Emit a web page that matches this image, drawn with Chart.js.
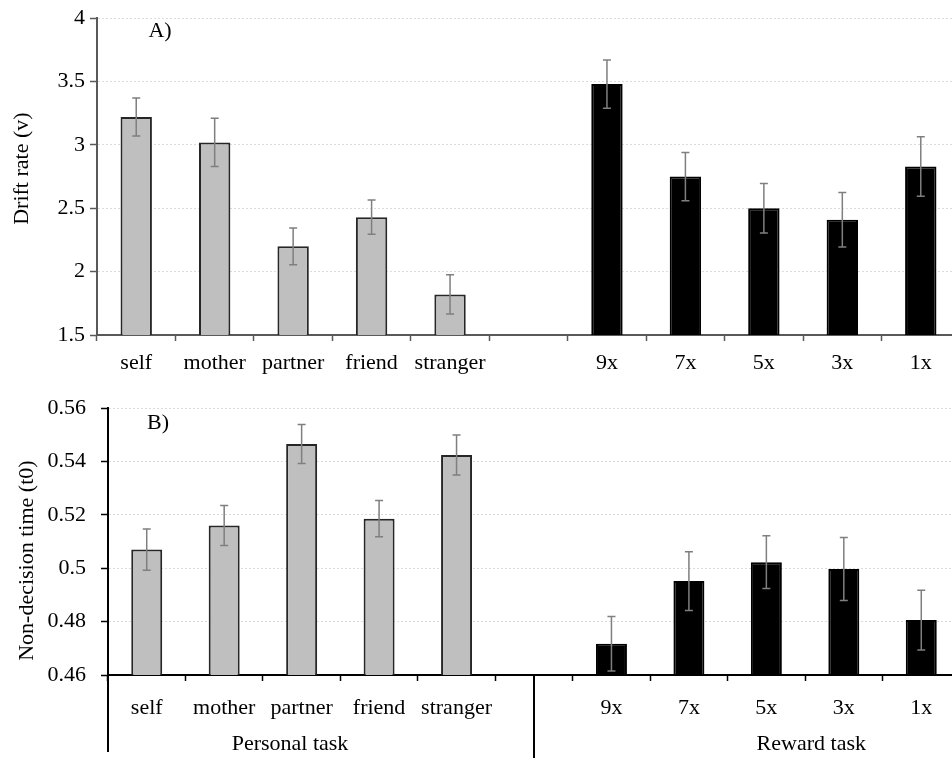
<!DOCTYPE html>
<html>
<head>
<meta charset="utf-8">
<script src="https://cdn.jsdelivr.net/npm/chart.js@4.4.1/dist/chart.umd.min.js"></script>
<style>
  html, body { margin: 0; padding: 0; background: #fff; overflow: hidden; }
  canvas { display: block; }
</style>
</head>
<body>
<canvas id="driftChart" width="960" height="380"></canvas>
<canvas id="t0Chart" width="960" height="380"></canvas>
<script>
// categories
const personalLabels = ['self', 'mother', 'partner', 'friend', 'stranger'];
const rewardLabels = ['9x', '7x', '5x', '3x', '1x'];

// panel A: drift rate (v)
const driftPersonal = [3.22, 3.02, 2.20, 2.43, 1.82];
const driftPersonalErr = [0.15, 0.19, 0.145, 0.135, 0.155];
const driftReward = [3.48, 2.75, 2.50, 2.41, 2.83];
const driftRewardErr = [0.19, 0.19, 0.195, 0.215, 0.235];
const driftTicks = [1.5, 2, 2.5, 3, 3.5, 4];

// panel B: non-decision time (t0)
const t0Personal = [0.507, 0.516, 0.5466, 0.5186, 0.5425];
const t0PersonalErr = [0.0077, 0.0075, 0.0073, 0.0068, 0.0075];
const t0Reward = [0.4717, 0.4952, 0.5023, 0.4997, 0.4806];
const t0RewardErr = [0.0102, 0.011, 0.0099, 0.0118, 0.0112];
const t0Ticks = [0.46, 0.48, 0.5, 0.52, 0.54, 0.56];

const FONT = '"Liberation Serif", "Times New Roman", serif';
const allLabels = [...personalLabels, '', ...rewardLabels];
const gap = (n) => new Array(n).fill(null);

// error bars drawn on top of the bars
const errorBars = {
  id: 'errorBars',
  afterDatasetsDraw(chart) {
    const ctx = chart.ctx;
    const yScale = chart.scales.y;
    chart.data.datasets.forEach((ds, i) => {
      const meta = chart.getDatasetMeta(i);
      meta.data.forEach((bar, j) => {
        const v = ds.data[j];
        const e = ds.errors[j];
        if (v == null || e == null) return;
        const yTop = yScale.getPixelForValue(v + e);
        const yBot = yScale.getPixelForValue(v - e);
        ctx.save();
        ctx.strokeStyle = '#7f7f7f';
        ctx.lineWidth = 1.5;
        ctx.beginPath();
        ctx.moveTo(bar.x, yTop); ctx.lineTo(bar.x, yBot);
        ctx.moveTo(bar.x - 4, yTop); ctx.lineTo(bar.x + 4, yTop);
        ctx.moveTo(bar.x - 4, yBot); ctx.lineTo(bar.x + 4, yBot);
        ctx.stroke();
        ctx.restore();
      });
    });
  }
};

// panel letter, y title and group labels
const decorations = {
  id: 'decorations',
  afterDraw(chart, args, opts) {
    const ctx = chart.ctx;
    const area = chart.chartArea;
    ctx.save();
    ctx.fillStyle = '#000';
    ctx.font = '22px ' + FONT;
    ctx.textAlign = 'center';
    ctx.textBaseline = 'middle';
    ctx.fillText(opts.letter, area.left + opts.letterDx, area.top + opts.letterDy);

    ctx.save();
    ctx.translate(opts.titleX, (area.top + area.bottom) / 2 + opts.titleDy);
    ctx.rotate(-Math.PI / 2);
    ctx.fillText(opts.title, 0, 0);
    ctx.restore();

    if (opts.groups) {
      const xScale = chart.scales.x;
      const sepX = xScale.getPixelForValue(personalLabels.length);
      ctx.strokeStyle = '#000';
      ctx.lineWidth = 2;
      ctx.beginPath();
      ctx.moveTo(area.left, area.bottom); ctx.lineTo(area.left, opts.groupLineEnd);
      ctx.moveTo(sepX, area.bottom); ctx.lineTo(sepX, opts.groupLineEnd + 6);
      ctx.stroke();
      ctx.fillText('Personal task', xScale.getPixelForValue(1.85), opts.groupY);
      ctx.fillText('Reward task', xScale.getPixelForValue(8.58), opts.groupY);
    }
    ctx.restore();
  }
};

function makeChart(id, cfg) {
  const personalData = [...cfg.personal, ...gap(1 + rewardLabels.length)];
  const personalErr = [...cfg.personalErr, ...gap(1 + rewardLabels.length)];
  const rewardData = [...gap(personalLabels.length + 1), ...cfg.reward];
  const rewardErr = [...gap(personalLabels.length + 1), ...cfg.rewardErr];

  return new Chart(document.getElementById(id), {
    type: 'bar',
    data: {
      labels: allLabels,
      datasets: [{
        label: 'Personal task',
        data: personalData,
        errors: personalErr,
        backgroundColor: '#bfbfbf',
        borderColor: '#262626',
        borderWidth: 2,
        grouped: false,
        barPercentage: 0.4,
        categoryPercentage: 1
      }, {
        label: 'Reward task',
        data: rewardData,
        errors: rewardErr,
        backgroundColor: '#000',
        borderColor: '#000',
        borderWidth: 2,
        grouped: false,
        barPercentage: 0.4,
        categoryPercentage: 1
      }]
    },
    options: {
      responsive: false,
      animation: false,
      layout: { padding: { top: cfg.padTop, left: 0, right: 0, bottom: 0 } },
      plugins: {
        legend: { display: false },
        tooltip: { enabled: false },
        decorations: cfg.deco
      },
      scales: {
        x: {
          grid: { drawOnChartArea: false, offset: true, tickLength: 6, tickColor: cfg.axisColor, tickWidth: 1.5 },
          border: { color: cfg.axisColor, width: 2 },
          ticks: { font: { family: FONT, size: 22 }, color: '#000', padding: cfg.xPad, maxRotation: 0, autoSkip: false },
          afterFit(s) { s.height = cfg.xHeight; }
        },
        y: {
          min: cfg.ticks[0],
          max: cfg.ticks[cfg.ticks.length - 1],
          afterBuildTicks(s) { s.ticks = cfg.ticks.map(v => ({ value: v })); },
          grid: { color: '#dcdcdc', lineWidth: 1, tickColor: cfg.axisColor, tickLength: 7, tickWidth: 1.5 },
          border: { color: cfg.axisColor, width: 2, dash: [2, 2] },
          ticks: {
            font: { family: FONT, size: 22 }, color: '#000', padding: cfg.yPad,
            callback: (v) => String(+v.toFixed(4))
          },
          afterFit(s) { s.width = cfg.yWidth; }
        }
      }
    },
    plugins: [errorBars, decorations]
  });
}

makeChart('driftChart', {
  personal: driftPersonal, personalErr: driftPersonalErr,
  reward: driftReward, rewardErr: driftRewardErr,
  ticks: driftTicks,
  padTop: 14, yWidth: 97, xHeight: 45, xPad: 9, yPad: 5,
  axisColor: '#595959',
  deco: { letter: 'A)', letterDx: 63, letterDy: 13, title: 'Drift rate (v)', titleX: 22, titleDy: -8 }
});

makeChart('t0Chart', {
  personal: t0Personal, personalErr: t0PersonalErr,
  reward: t0Reward, rewardErr: t0RewardErr,
  ticks: t0Ticks,
  padTop: 27, yWidth: 108, xHeight: 85, xPad: 14, yPad: 15,
  axisColor: '#000',
  deco: { letter: 'B)', letterDx: 50, letterDy: 15, title: 'Non-decision time (t0)', titleX: 27, titleDy: 19,
          groups: true, groupY: 364, groupLineEnd: 372 }
});
</script>
</body>
</html>
